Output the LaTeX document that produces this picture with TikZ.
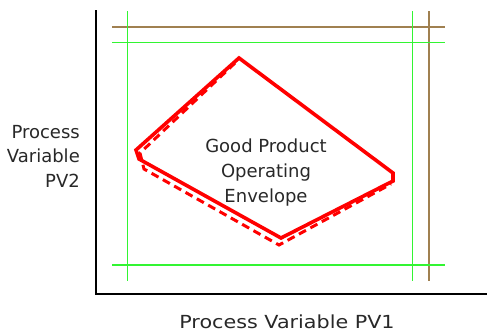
\documentclass[tikz,border=0pt]{standalone}
\usepackage{fontspec}
\setmainfont{DejaVu Sans}
\definecolor{limit}{RGB}{50,245,50}
\definecolor{brownline}{RGB}{160,128,80}
\definecolor{txt}{RGB}{40,40,40}
\begin{document}
\begin{tikzpicture}[x=1pt,y=-1pt,
  greenline/.style={limit, line width=1.5pt},
  brownl/.style={brownline, line width=1.7pt},
  envelope/.style={red, line width=3.6pt, line join=miter},
  envdash/.style={red, line width=3pt, dash pattern=on 8pt off 5pt},
  lbl/.style={font=\fontsize{18}{24.5}\selectfont, text=txt, inner sep=0pt}]
\useasboundingbox (0,0) rectangle (487,332);
% axes
\coordinate (otop) at (96,11);
\coordinate (orig) at (96,294);
\coordinate (xend) at (487,294);
\draw[line width=2.5pt, line cap=rect] (otop) -- (orig) -- (xend);
% limits
\draw[brownl] (112,26.7) -- (445,26.7);
\draw[brownl] (429,11) -- (429,281);
\draw[greenline] (112,42.3) -- (445,42.3);
\draw[greenline] (112,265) -- (445,265);
\draw[greenline] (127.7,11) -- (127.7,281);
\draw[greenline] (412.7,11) -- (412.7,281);
% envelope
\coordinate (pt) at (239,58);
\coordinate (pl) at (136,150);
\coordinate (pl2) at (139,159);
\coordinate (pb) at (281,238);
\coordinate (pr) at (393,181);
\coordinate (pr2) at (393,173);
\draw[envelope] (pt) -- (pl) -- (pl2) -- (pb) -- (pr) -- (pr2) -- cycle;
\draw[envdash] (235,63) -- (140,153) -- (144,169) -- (279,245) -- (391,184);
% texts
\node[lbl, align=center, font=\fontsize{18}{25}\selectfont] (env) at (266,172.5) {Good Product\\Operating\\Envelope};
\node[lbl, align=right, anchor=east] (pv2) at (80,156) {Process\\Variable\\PV2};
\node[lbl, xscale=1.15] (pv1) at (287,322) {Process Variable PV1};
\end{tikzpicture}
\end{document}
